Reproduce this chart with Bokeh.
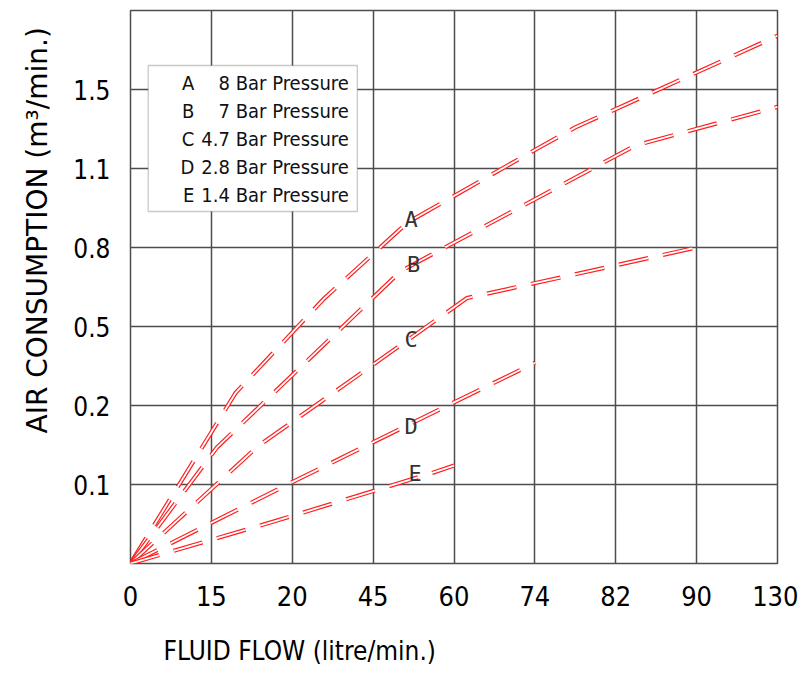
from bokeh.plotting import figure
from bokeh.models import FixedTicker, Label, BoxAnnotation, ColumnDataSource, Title
from bokeh.embed import file_html
from bokeh.resources import INLINE

# Axis tick labels (the grid is drawn on equally spaced positions)
x_tick_labels = ["0", "15", "20", "45", "60", "74", "82", "90", "130"]
y_tick_labels = ["0", "0.1", "0.2", "0.5", "0.8", "1.1", "1.5", ""]

# Curves, in grid positions (x: flow grid index, y: consumption grid index)
a_x = [0, 1.30, 2.39, 3.43, 5.01, 5.50, 8.0]
a_y = [0, 2.16, 3.35, 4.32, 5.24, 5.52, 6.68]
b_x = [0, 1.07, 3.34, 6.24, 8.0]
b_y = [0, 1.47, 3.70, 5.29, 5.78]
c_x = [0, 1.57, 4.16, 7.0]
c_y = [0, 1.48, 3.36, 4.0]
d_x = [0, 2.0, 4.0, 5.0]
d_y = [0, 1.03, 2.04, 2.54]
e_x = [0, 1.8, 3.71, 4.0]
e_y = [0, 0.54, 1.14, 1.24]

curve_names = ["A", "B", "C", "D", "E"]
curve_pressures = ["8 Bar Pressure", "7 Bar Pressure", "4.7 Bar Pressure",
                   "2.8 Bar Pressure", "1.4 Bar Pressure"]

FONT = "DejaVu Sans Condensed"
GRID = "#4d4d4d"
RED = "#ff1f1f"

p = figure(width=798, height=692, output_backend="svg", toolbar_location=None,
           x_range=(0, 8), y_range=(0, 7),
           min_border_left=130, min_border_right=21, min_border_top=10, min_border_bottom=129)
p.background_fill_color = "white"
p.border_fill_color = "white"
p.outline_line_color = GRID
p.outline_line_width = 1.5

n_x = len(x_tick_labels)
n_y = len(y_tick_labels)
p.xaxis.ticker = FixedTicker(ticks=list(range(n_x)))
p.xaxis.major_label_overrides = {i: t for i, t in enumerate(x_tick_labels)}
p.yaxis.ticker = FixedTicker(ticks=list(range(1, n_y - 1)))
p.yaxis.major_label_overrides = {i: t for i, t in enumerate(y_tick_labels)}

for ax in (p.xaxis, p.yaxis):
    ax.axis_line_color = None
    ax.major_tick_line_color = None
    ax.minor_tick_line_color = None
    ax.major_tick_out = 0
    ax.major_tick_in = 0
    ax.major_label_text_font = FONT
    ax.major_label_text_color = "black"
p.xaxis.major_label_text_font_size = "27px"
p.yaxis.major_label_text_font_size = "26px"
p.xaxis.major_label_standoff = 22
p.yaxis.major_label_standoff = 20

# axis titles (side titles so they can sit off-centre as in the reference)
p.add_layout(Title(text="FLUID FLOW (litre/min.)", align="left", offset=33,
                   standoff=50, text_font=FONT, text_font_size="26px",
                   text_font_style="normal", text_color="black"), "below")
p.add_layout(Title(text="AIR CONSUMPTION (m³/min.)", align="left", offset=130,
                   standoff=33, text_font="DejaVu Sans", text_font_size="28px",
                   text_font_style="normal", text_color="black"), "left")

p.xgrid.ticker = FixedTicker(ticks=list(range(n_x)))
p.ygrid.ticker = FixedTicker(ticks=list(range(n_y)))
for g in (p.xgrid, p.ygrid):
    g.grid_line_color = GRID
    g.grid_line_width = 1.5
    g.grid_line_alpha = 1.0

# double dashed red lines: thick red with thin white core
curves = [(a_x, a_y), (b_x, b_y), (c_x, c_y), (d_x, d_y), (e_x, e_y)]
for xs, ys in curves:
    src = ColumnDataSource(dict(x=xs, y=ys))
    p.line("x", "y", source=src, line_color=RED, line_width=4.2, line_dash="30 15",
           line_join="miter")
    p.line("x", "y", source=src, line_color="white", line_width=1.8, line_dash="30 15",
           line_join="miter")

# curve letters
letter_pos = [(3.47, 4.35), (3.50, 3.79), (3.47, 2.84), (3.47, 1.73), (3.52, 1.14)]
for name, (lx, ly) in zip(curve_names, letter_pos):
    p.add_layout(Label(x=lx, y=ly, text=name, text_font="DejaVu Sans Mono",
                       text_font_size="22px", text_color="#333333",
                       text_align="center", text_baseline="middle"))

# legend box
p.add_layout(BoxAnnotation(left=0.219, right=2.805, bottom=4.456, top=6.304,
                           fill_color="white", fill_alpha=1.0,
                           line_color=GRID, line_width=1.3))
row_y = [6.077, 5.722, 5.376, 5.016, 4.667]
for name, txt, ry in zip(curve_names, curve_pressures, row_y):
    p.add_layout(Label(x=0.79, y=ry, text=name, text_font=FONT, text_font_size="20px",
                       text_color="#111111", text_align="right", text_baseline="middle"))
    p.add_layout(Label(x=2.70, y=ry, text=txt, text_font=FONT, text_font_size="20px",
                       text_color="#111111", text_align="right", text_baseline="middle"))

open("out.html", "w").write(file_html(p, INLINE))
